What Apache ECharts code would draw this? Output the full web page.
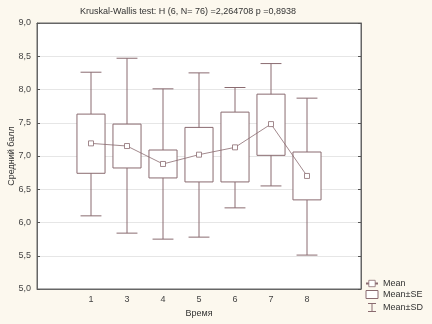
<!DOCTYPE html>
<html>
<head>
<meta charset="utf-8">
<script src="https://cdn.jsdelivr.net/npm/echarts@6/dist/echarts.min.js"></script>
<style>
html, body { margin: 0; padding: 0; background: #fcf8ee; }
#chart { width: 432px; height: 324px; }
</style>
</head>
<body>
<div id="chart"></div>
<script>
// группы по времени (пустые края - как в оригинале)
var categories = ['', '1', '3', '4', '5', '6', '7', '8', ''];
var means      = [null, 7.19, 7.15, 6.88, 7.02, 7.13, 7.48, 6.70, null];
var seHigh     = [null, 7.63, 7.48, 7.09, 7.43, 7.66, 7.93, 7.06, null];
var seLow      = [null, 6.74, 6.82, 6.67, 6.61, 6.61, 7.01, 6.34, null];
var sdHigh     = [null, 8.26, 8.47, 8.01, 8.25, 8.03, 8.39, 7.87, null];
var sdLow      = [null, 6.10, 5.84, 5.75, 5.78, 6.22, 6.55, 5.51, null];

var lineCol = '#8a6b70';
var font = 'Liberation Sans, Arial, sans-serif';

var boxData = [], sdData = [];
categories.forEach(function (c, i) {
    if (means[i] == null) return;
    boxData.push([i, seLow[i], seHigh[i]]);
    sdData.push([i, sdLow[i], sdHigh[i]]);
});

var chart = echarts.init(document.getElementById('chart'));
var option = {
    backgroundColor: '#fcf8ee',
    animation: false,
    title: {
        text: 'Kruskal-Wallis test: H (6, N= 76) =2,264708 p =0,8938',
        left: 183, top: 2, textAlign: 'center',
        textStyle: { fontSize: 9, fontWeight: 'normal', color: '#333', fontFamily: font }
    },
    legend: {
        orient: 'vertical',
        left: 360, top: 274,
        itemWidth: 12, itemHeight: 8, itemGap: 2,
        textStyle: { fontSize: 9, color: '#333', fontFamily: font },
        data: [
            { name: 'Mean', itemStyle: { color: '#fff', borderColor: lineCol, borderWidth: 0.8 } },
            { name: 'Mean±SE', icon: 'rect', itemStyle: { color: '#fff', borderColor: lineCol, borderWidth: 1 } },
            { name: 'Mean±SD', icon: 'path://M0,0L10,0M5,0L5,10M0,10L10,10',
              itemStyle: { color: 'none', borderColor: lineCol, borderWidth: 1 } }
        ]
    },
    grid: {
        left: 37, right: 71, top: 23, bottom: 35,
        outerBoundsMode: 'none',
        show: true, backgroundColor: '#fff', borderColor: '#666', borderWidth: 1
    },
    xAxis: [{
        type: 'category',
        data: categories,
        name: 'Время',
        nameLocation: 'middle',
        nameGap: 20,
        nameMoveOverlap: false,
        nameTextStyle: { fontSize: 9, color: '#333', fontFamily: font },
        axisLine: { lineStyle: { color: '#666' } },
        axisTick: { inside: true, alignWithLabel: true, interval: 0, length: 3, lineStyle: { color: '#555' } },
        axisLabel: { interval: 0, fontSize: 9, color: '#444', margin: 6, fontFamily: font },
        splitLine: { show: false }
    }, {
        type: 'category',
        data: categories,
        position: 'top',
        axisLine: { lineStyle: { color: '#666' } },
        axisTick: { inside: true, alignWithLabel: true, interval: 0, length: 3, lineStyle: { color: '#555' } },
        axisLabel: { show: false }
    }],
    yAxis: [{
        type: 'value',
        min: 5, max: 9, interval: 0.5,
        name: 'Средний балл',
        nameLocation: 'middle',
        nameGap: 21,
        nameMoveOverlap: false,
        nameTextStyle: { fontSize: 9, color: '#333', fontFamily: font },
        axisLine: { show: true, lineStyle: { color: '#666' } },
        axisTick: { show: true, inside: true, length: 3, lineStyle: { color: '#555' } },
        axisLabel: {
            fontSize: 9, color: '#444', margin: 6, fontFamily: font,
            formatter: function (v) { return v.toFixed(1).replace('.', ','); }
        },
        splitLine: { lineStyle: { color: '#e6e6e6', width: 1 } }
    }, {
        type: 'value',
        min: 5, max: 9, interval: 0.5,
        position: 'right',
        axisLine: { show: true, lineStyle: { color: '#666' } },
        axisTick: { show: true, inside: true, length: 3, lineStyle: { color: '#555' } },
        axisLabel: { show: false },
        splitLine: { show: false }
    }],
    series: [
        {
            name: 'Mean±SD',
            type: 'custom',
            z: 1,
            itemStyle: { color: lineCol },
            data: sdData,
            renderItem: function (params, api) {
                var i = api.value(0);
                var lo = api.coord([i, api.value(1)]);
                var hi = api.coord([i, api.value(2)]);
                var w = api.size([1, 0])[0] * 0.58 / 2;
                var st = { stroke: lineCol, lineWidth: 1, fill: null };
                return {
                    type: 'group',
                    children: [
                        { type: 'line', shape: { x1: lo[0], y1: lo[1], x2: hi[0], y2: hi[1] }, style: st },
                        { type: 'line', shape: { x1: hi[0] - w, y1: hi[1], x2: hi[0] + w, y2: hi[1] }, style: st },
                        { type: 'line', shape: { x1: lo[0] - w, y1: lo[1], x2: lo[0] + w, y2: lo[1] }, style: st }
                    ]
                };
            }
        },
        {
            name: 'Mean±SE',
            type: 'custom',
            z: 2,
            itemStyle: { color: lineCol },
            data: boxData,
            renderItem: function (params, api) {
                var i = api.value(0);
                var lo = api.coord([i, api.value(1)]);
                var hi = api.coord([i, api.value(2)]);
                var w = api.size([1, 0])[0] * 0.78;
                return {
                    type: 'rect',
                    shape: { x: lo[0] - w / 2, y: hi[1], width: w, height: lo[1] - hi[1] },
                    style: { fill: '#fff', stroke: lineCol, lineWidth: 1 }
                };
            }
        },
        {
            name: 'Mean',
            type: 'line',
            z: 3,
            data: means,
            symbol: 'rect',
            symbolSize: 5,
            lineStyle: { color: lineCol, width: 0.8 },
            itemStyle: { color: '#fff', borderColor: lineCol, borderWidth: 0.8 }
        }
    ]
};
chart.setOption(option);
</script>
</body>
</html>
